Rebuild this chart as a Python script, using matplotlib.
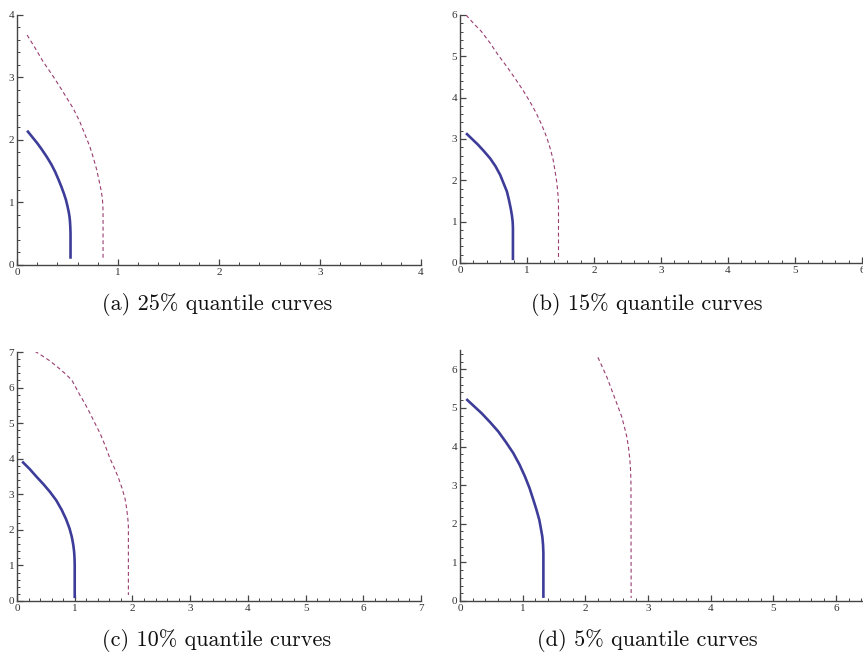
import numpy as np
import matplotlib
matplotlib.use("Agg")
import matplotlib.pyplot as plt
from matplotlib.ticker import MultipleLocator

# quantile curves, (x, y) pairs per panel
# panel (a): 25% quantile
a_solid_x = [0.10, 0.15, 0.20, 0.245, 0.295, 0.34, 0.378, 0.41, 0.44, 0.465,
             0.485, 0.50, 0.512, 0.52, 0.525, 0.528, 0.53, 0.53]
a_solid_y = [2.15, 2.05, 1.95, 1.85, 1.73, 1.61, 1.49, 1.37, 1.25, 1.14,
             1.04, 0.94, 0.85, 0.77, 0.69, 0.60, 0.50, 0.10]
a_dash_x = [0.10, 0.18, 0.26, 0.345, 0.425, 0.49, 0.555, 0.62, 0.675, 0.72,
            0.757, 0.79, 0.815, 0.832, 0.845, 0.85, 0.852, 0.852]
a_dash_y = [3.68, 3.47, 3.25, 3.05, 2.85, 2.68, 2.51, 2.30, 2.08, 1.90,
            1.71, 1.52, 1.33, 1.20, 1.07, 0.95, 0.85, 0.10]

# panel (b): 15% quantile
b_solid_x = [0.09, 0.18, 0.27, 0.36, 0.45, 0.53, 0.60, 0.65, 0.70, 0.73,
             0.757, 0.775, 0.786, 0.79, 0.79, 0.79]
b_solid_y = [3.14, 3.00, 2.86, 2.70, 2.53, 2.34, 2.13, 1.93, 1.73, 1.53,
             1.32, 1.15, 1.00, 0.85, 0.68, 0.07]
b_dash_x = [0.09, 0.20, 0.32, 0.45, 0.57, 0.70, 0.82, 0.94, 1.045, 1.14,
            1.22, 1.29, 1.345, 1.39, 1.42, 1.445, 1.46, 1.47, 1.47]
b_dash_y = [6.00, 5.80, 5.60, 5.32, 5.03, 4.75, 4.47, 4.18, 3.90, 3.62,
            3.34, 3.06, 2.78, 2.50, 2.21, 1.95, 1.70, 1.45, 0.07]

# panel (c): 10% quantile
c_solid_x = [0.09, 0.22, 0.34, 0.46, 0.57, 0.68, 0.775, 0.85, 0.91, 0.95,
             0.976, 0.99, 0.997, 1.0, 1.0]
c_solid_y = [3.92, 3.71, 3.49, 3.28, 3.07, 2.83, 2.56, 2.30, 2.04, 1.80,
             1.57, 1.38, 1.20, 1.00, 0.08]
c_dash_x = [0.31, 0.44, 0.57, 0.70, 0.83, 0.95, 1.02, 1.09, 1.18, 1.265,
            1.35, 1.44, 1.53, 1.61, 1.69, 1.76, 1.82, 1.87, 1.90, 1.92,
            1.93, 1.93]
c_dash_y = [7.02, 6.89, 6.75, 6.58, 6.40, 6.21, 6.00, 5.79, 5.54, 5.28,
            5.00, 4.71, 4.36, 4.01, 3.73, 3.45, 3.17, 2.89, 2.60, 2.32,
            2.10, 0.17]

# panel (d): 5% quantile
d_solid_x = [0.10, 0.22, 0.346, 0.48, 0.61, 0.73, 0.85, 0.95, 1.037, 1.11,
             1.17, 1.22, 1.265, 1.29, 1.313, 1.325, 1.33, 1.33]
d_solid_y = [5.23, 5.05, 4.86, 4.63, 4.39, 4.12, 3.83, 3.53, 3.22, 2.92,
             2.62, 2.36, 2.10, 1.88, 1.67, 1.45, 1.24, 0.08]
d_dash_x = [2.20, 2.27, 2.34, 2.405, 2.47, 2.525, 2.58, 2.62, 2.66, 2.69,
            2.71, 2.722, 2.727, 2.73]
d_dash_y = [6.31, 6.06, 5.81, 5.53, 5.25, 5.01, 4.77, 4.52, 4.26, 3.95,
            3.65, 3.35, 3.05, 0.08]

captions = ["(a) 25% quantile curves", "(b) 15% quantile curves",
            "(c) 10% quantile curves", "(d) 5% quantile curves"]
x_limits = [4, 6, 7, 6.5]
y_limits = [4, 6, 7, 6.5]

solid_color = "#3d3d99"
dash_color = "#993d71"
axis_color = "#444444"

W, H = 863, 653
fig = plt.figure(figsize=(W / 100, H / 100), dpi=100)

# axes boxes in pixels: left, right, bottom, top
boxes = [(17, 421, 265, 15), (460, 862, 263, 15),
         (17, 421, 601, 352), (460, 867.5, 601, 350)]
cap_pos = [(217, 304), (647, 304), (217, 640), (647, 640)]

curves = [(a_solid_x, a_solid_y, a_dash_x, a_dash_y),
          (b_solid_x, b_solid_y, b_dash_x, b_dash_y),
          (c_solid_x, c_solid_y, c_dash_x, c_dash_y),
          (d_solid_x, d_solid_y, d_dash_x, d_dash_y)]

for i in range(4):
    l, r, b, t = boxes[i]
    ax = fig.add_axes([l / W, 1 - b / H, (r - l) / W, (b - t) / H])
    sx, sy, dx, dy = curves[i]
    ax.plot(sx, sy, color=solid_color, lw=1.9, solid_capstyle="butt",
            solid_joinstyle="round")
    ax.plot(dx, dy, color=dash_color, lw=0.8, ls=(0, (3.5, 2.6)))
    ax.set_xlim(0, x_limits[i])
    ax.set_ylim(0, y_limits[i])
    for s in ["top", "right"]:
        ax.spines[s].set_visible(False)
    for s in ["left", "bottom"]:
        ax.spines[s].set_color(axis_color)
        ax.spines[s].set_linewidth(1.0)
    ax.xaxis.set_major_locator(MultipleLocator(1))
    ax.yaxis.set_major_locator(MultipleLocator(1))
    ax.xaxis.set_minor_locator(MultipleLocator(0.2))
    ax.yaxis.set_minor_locator(MultipleLocator(0.2))
    ax.tick_params(which="major", direction="in", length=4, width=0.9,
                   color=axis_color, labelsize=8, labelcolor="#333333", pad=2)
    ax.tick_params(which="minor", direction="in", length=2.3, width=0.7,
                   color=axis_color)
    for lab in ax.get_xticklabels() + ax.get_yticklabels():
        lab.set_family("Liberation Serif")
    ax.patch.set_alpha(0)
    cx, cy = cap_pos[i]
    fig.text(cx / W, 1 - cy / H, captions[i], family="cmr10", fontsize=16,
             ha="center", va="center", color="#111111")

fig.savefig("out.png", dpi=100)
